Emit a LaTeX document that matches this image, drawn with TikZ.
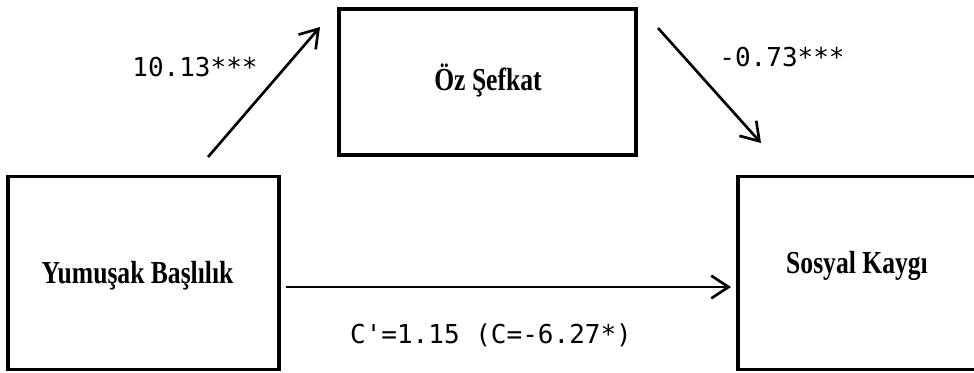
\documentclass[tikz,border=0pt]{standalone}
\usepackage{fontspec}
\setmainfont{Liberation Serif}
\newfontfamily\monof{DejaVu Sans Mono}
\usetikzlibrary{arrows.meta}
\tikzset{
  boxnode/.style={draw=black, line width=2.3pt, rectangle, inner sep=0pt},
  boxtext/.style={font=\fontsize{24}{28}\selectfont\bfseries, inner sep=0pt},
  coef/.style={font=\monof\fontsize{19.5}{24}\selectfont, inner sep=0pt},
  conn/.style={line width=2pt, -{Straight Barb[length=13pt, width=17pt, line width=2pt]}}
}
\begin{document}
\begin{tikzpicture}[x=0.75pt, y=-0.75pt]
\useasboundingbox (0,0) rectangle (974,372);
\clip (0,0) rectangle (974,372);
\fill[white] (0,0) rectangle (974,372);
% boxes
\node[boxnode, minimum width=297*0.75pt, minimum height=146*0.75pt] (oz) at (487.5,82) {};
\node[boxnode, minimum width=271*0.75pt, minimum height=193*0.75pt] (yum) at (143.5,273) {};
\node[boxnode, minimum width=250*0.75pt, minimum height=193*0.75pt] (sos) at (863,273) {};
% texts
\node[boxtext] (ozt) at (488,80) {\scalebox{0.8}[1]{Öz Şefkat}};
\node[boxtext] (yumt) at (137.5,276) {\scalebox{0.8}[1]{Yumuşak Başlılık}};
\node[boxtext] (sost) at (857,266) {\scalebox{0.8}[1]{Sosyal Kaygı}};
% connector end points
\coordinate (a1s) at (208,157);
\coordinate (a1e) at (320,27);
\coordinate (a2s) at (658,28);
\coordinate (a2e) at (761,143);
\coordinate (a3s) at (286,287);
\coordinate (a3e) at (731,287);
\draw[conn] (a1s) -- (a1e);
\draw[conn] (a2s) -- (a2e);
\draw[conn] (a3s) -- (a3e);
% coefficients
\node[coef] (c1) at (195,67) {10.13***};
\node[coef] (c2) at (782,57) {-0.73***};
\node[coef] (c3) at (491,335) {C'=1.15 (C=-6.27*)};
\end{tikzpicture}
\end{document}
